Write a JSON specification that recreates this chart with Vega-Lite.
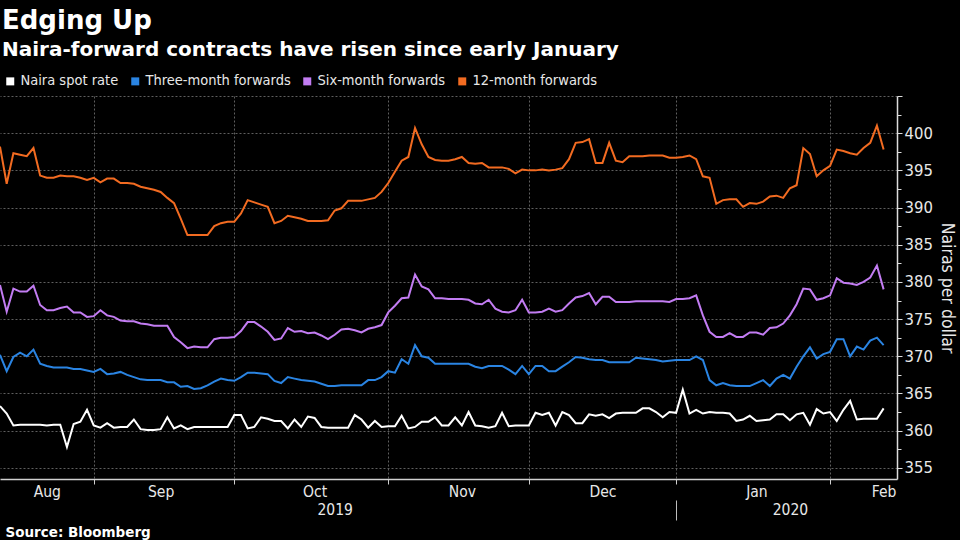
{
  "$schema": "https://vega.github.io/schema/vega-lite/v6.json",
  "width": 897,
  "height": 383,
  "autosize": {"type": "none"},
  "padding": {"left": 0, "top": 96, "right": 63, "bottom": 61},
  "background": "#000000",
  "title": {
    "text": "Edging Up",
    "subtitle": "Naira-forward contracts have risen since early January",
    "anchor": "start",
    "frame": "group",
    "font": "DejaVu Sans",
    "fontSize": 26,
    "fontWeight": "bold",
    "color": "#ffffff",
    "subtitleFont": "DejaVu Sans",
    "subtitleFontSize": 20,
    "subtitleFontWeight": "bold",
    "subtitleColor": "#ffffff",
    "subtitlePadding": 6,
    "offset": 14,
    "dx": 2
  },
  "data": {"values": [
    {"d":"2019-08-13","spot":363.3,"m3":370.2,"m6":379.6,"m12":398.2},
    {"d":"2019-08-14","spot":362.3,"m3":368.0,"m6":376.0,"m12":393.2},
    {"d":"2019-08-15","spot":360.7,"m3":369.9,"m6":379.1,"m12":397.3},
    {"d":"2019-08-16","spot":360.8,"m3":370.5,"m6":378.7,"m12":397.1},
    {"d":"2019-08-19","spot":360.8,"m3":370.0,"m6":378.7,"m12":396.9},
    {"d":"2019-08-20","spot":360.8,"m3":370.9,"m6":379.5,"m12":398.0},
    {"d":"2019-08-21","spot":360.8,"m3":369.0,"m6":376.9,"m12":394.3},
    {"d":"2019-08-22","spot":360.7,"m3":368.7,"m6":376.2,"m12":394.0},
    {"d":"2019-08-23","spot":360.8,"m3":368.5,"m6":376.2,"m12":394.0},
    {"d":"2019-08-26","spot":360.8,"m3":368.5,"m6":376.5,"m12":394.3},
    {"d":"2019-08-27","spot":357.8,"m3":368.5,"m6":376.7,"m12":394.2},
    {"d":"2019-08-28","spot":360.9,"m3":368.3,"m6":375.9,"m12":394.2},
    {"d":"2019-08-29","spot":361.2,"m3":368.3,"m6":375.9,"m12":394.0},
    {"d":"2019-08-30","spot":362.8,"m3":368.1,"m6":375.3,"m12":393.7},
    {"d":"2019-09-02","spot":360.7,"m3":367.9,"m6":375.4,"m12":394.0},
    {"d":"2019-09-03","spot":360.4,"m3":368.3,"m6":376.2,"m12":393.4},
    {"d":"2019-09-04","spot":361.0,"m3":367.6,"m6":375.5,"m12":393.9},
    {"d":"2019-09-05","spot":360.4,"m3":367.7,"m6":375.3,"m12":393.9},
    {"d":"2019-09-06","spot":360.5,"m3":367.9,"m6":374.8,"m12":393.3},
    {"d":"2019-09-09","spot":360.5,"m3":367.5,"m6":374.7,"m12":393.3},
    {"d":"2019-09-10","spot":361.5,"m3":367.2,"m6":374.7,"m12":393.2},
    {"d":"2019-09-11","spot":360.2,"m3":366.9,"m6":374.4,"m12":392.8},
    {"d":"2019-09-12","spot":360.1,"m3":366.8,"m6":374.3,"m12":392.6},
    {"d":"2019-09-13","spot":360.1,"m3":366.8,"m6":374.1,"m12":392.4},
    {"d":"2019-09-16","spot":360.2,"m3":366.8,"m6":374.1,"m12":392.1},
    {"d":"2019-09-17","spot":361.8,"m3":366.5,"m6":374.1,"m12":391.3},
    {"d":"2019-09-18","spot":360.3,"m3":366.5,"m6":372.6,"m12":390.6},
    {"d":"2019-09-19","spot":360.7,"m3":365.9,"m6":371.9,"m12":388.5},
    {"d":"2019-09-20","spot":360.2,"m3":366.0,"m6":371.1,"m12":386.3},
    {"d":"2019-09-23","spot":360.5,"m3":365.6,"m6":371.3,"m12":386.3},
    {"d":"2019-09-24","spot":360.5,"m3":365.7,"m6":371.2,"m12":386.3},
    {"d":"2019-09-25","spot":360.5,"m3":366.1,"m6":371.2,"m12":386.3},
    {"d":"2019-09-26","spot":360.5,"m3":366.6,"m6":372.3,"m12":387.5},
    {"d":"2019-09-27","spot":360.5,"m3":367.0,"m6":372.5,"m12":387.9},
    {"d":"2019-09-30","spot":360.5,"m3":366.8,"m6":372.5,"m12":388.1},
    {"d":"2019-10-01","spot":362.1,"m3":366.7,"m6":372.6,"m12":388.1},
    {"d":"2019-10-02","spot":362.1,"m3":367.2,"m6":373.4,"m12":389.2},
    {"d":"2019-10-03","spot":360.3,"m3":367.8,"m6":374.6,"m12":391.0},
    {"d":"2019-10-04","spot":360.5,"m3":367.8,"m6":374.6,"m12":390.7},
    {"d":"2019-10-07","spot":361.8,"m3":367.7,"m6":374.0,"m12":390.4},
    {"d":"2019-10-08","spot":361.6,"m3":367.6,"m6":373.3,"m12":390.1},
    {"d":"2019-10-09","spot":361.3,"m3":366.7,"m6":372.2,"m12":387.9},
    {"d":"2019-10-10","spot":361.3,"m3":366.4,"m6":372.4,"m12":388.2},
    {"d":"2019-10-11","spot":360.3,"m3":367.2,"m6":373.8,"m12":388.9},
    {"d":"2019-10-14","spot":361.5,"m3":367.0,"m6":373.3,"m12":388.7},
    {"d":"2019-10-15","spot":360.5,"m3":366.8,"m6":373.4,"m12":388.5},
    {"d":"2019-10-16","spot":361.9,"m3":366.7,"m6":373.1,"m12":388.2},
    {"d":"2019-10-17","spot":361.7,"m3":366.6,"m6":373.2,"m12":388.2},
    {"d":"2019-10-18","spot":360.5,"m3":366.3,"m6":372.8,"m12":388.2},
    {"d":"2019-10-21","spot":360.4,"m3":366.0,"m6":372.3,"m12":388.3},
    {"d":"2019-10-22","spot":360.4,"m3":366.0,"m6":372.9,"m12":389.6},
    {"d":"2019-10-23","spot":360.4,"m3":366.1,"m6":373.6,"m12":389.9},
    {"d":"2019-10-24","spot":360.4,"m3":366.1,"m6":373.7,"m12":390.9},
    {"d":"2019-10-25","spot":362.1,"m3":366.1,"m6":373.5,"m12":390.9},
    {"d":"2019-10-28","spot":361.5,"m3":366.1,"m6":373.2,"m12":390.9},
    {"d":"2019-10-29","spot":360.4,"m3":366.8,"m6":373.7,"m12":391.1},
    {"d":"2019-10-30","spot":361.3,"m3":366.8,"m6":373.9,"m12":391.3},
    {"d":"2019-10-31","spot":360.5,"m3":367.2,"m6":374.2,"m12":392.1},
    {"d":"2019-11-01","spot":360.6,"m3":368.0,"m6":375.9,"m12":393.3},
    {"d":"2019-11-04","spot":360.6,"m3":367.8,"m6":376.8,"m12":394.8},
    {"d":"2019-11-05","spot":362.0,"m3":369.6,"m6":377.8,"m12":396.3},
    {"d":"2019-11-06","spot":360.3,"m3":369.0,"m6":377.9,"m12":396.8},
    {"d":"2019-11-07","spot":360.5,"m3":371.5,"m6":381.0,"m12":400.7},
    {"d":"2019-11-08","spot":361.2,"m3":370.0,"m6":379.4,"m12":398.5},
    {"d":"2019-11-11","spot":361.2,"m3":369.8,"m6":379.0,"m12":396.8},
    {"d":"2019-11-12","spot":361.8,"m3":369.0,"m6":377.8,"m12":396.4},
    {"d":"2019-11-13","spot":360.7,"m3":369.0,"m6":377.8,"m12":396.3},
    {"d":"2019-11-14","spot":360.7,"m3":369.0,"m6":377.7,"m12":396.3},
    {"d":"2019-11-15","spot":361.8,"m3":369.0,"m6":377.7,"m12":396.5},
    {"d":"2019-11-18","spot":360.7,"m3":369.0,"m6":377.7,"m12":396.8},
    {"d":"2019-11-19","spot":362.5,"m3":369.0,"m6":377.6,"m12":396.0},
    {"d":"2019-11-20","spot":360.7,"m3":368.6,"m6":377.1,"m12":395.9},
    {"d":"2019-11-21","spot":360.6,"m3":368.4,"m6":377.0,"m12":396.0},
    {"d":"2019-11-22","spot":360.4,"m3":368.7,"m6":377.6,"m12":395.4},
    {"d":"2019-11-25","spot":360.6,"m3":368.7,"m6":376.4,"m12":395.4},
    {"d":"2019-11-26","spot":362.4,"m3":368.7,"m6":376.0,"m12":395.4},
    {"d":"2019-11-27","spot":360.6,"m3":368.2,"m6":375.9,"m12":395.2},
    {"d":"2019-11-28","spot":360.7,"m3":367.6,"m6":376.2,"m12":394.6},
    {"d":"2019-11-29","spot":360.7,"m3":368.7,"m6":377.6,"m12":395.1},
    {"d":"2019-12-02","spot":360.7,"m3":367.6,"m6":375.9,"m12":395.0},
    {"d":"2019-12-03","spot":362.4,"m3":368.7,"m6":375.9,"m12":395.0},
    {"d":"2019-12-04","spot":362.1,"m3":368.7,"m6":376.0,"m12":395.1},
    {"d":"2019-12-05","spot":362.4,"m3":368.0,"m6":376.4,"m12":395.0},
    {"d":"2019-12-06","spot":360.7,"m3":368.0,"m6":376.0,"m12":395.1},
    {"d":"2019-12-09","spot":362.5,"m3":368.6,"m6":376.2,"m12":395.3},
    {"d":"2019-12-10","spot":362.1,"m3":369.2,"m6":377.1,"m12":396.5},
    {"d":"2019-12-11","spot":361.0,"m3":369.9,"m6":377.9,"m12":398.7},
    {"d":"2019-12-12","spot":361.0,"m3":369.8,"m6":378.1,"m12":398.8},
    {"d":"2019-12-13","spot":362.2,"m3":369.6,"m6":378.5,"m12":399.2},
    {"d":"2019-12-16","spot":362.0,"m3":369.5,"m6":377.0,"m12":396.0},
    {"d":"2019-12-17","spot":362.2,"m3":369.5,"m6":378.0,"m12":396.0},
    {"d":"2019-12-18","spot":361.7,"m3":369.2,"m6":378.0,"m12":398.7},
    {"d":"2019-12-19","spot":362.3,"m3":369.2,"m6":377.3,"m12":396.3},
    {"d":"2019-12-20","spot":362.4,"m3":369.2,"m6":377.3,"m12":396.1},
    {"d":"2019-12-23","spot":362.4,"m3":369.2,"m6":377.3,"m12":396.9},
    {"d":"2019-12-24","spot":362.4,"m3":369.8,"m6":377.4,"m12":396.9},
    {"d":"2019-12-25","spot":363.0,"m3":369.7,"m6":377.4,"m12":396.9},
    {"d":"2019-12-26","spot":363.0,"m3":369.6,"m6":377.4,"m12":397.0},
    {"d":"2019-12-27","spot":362.5,"m3":369.5,"m6":377.4,"m12":397.0},
    {"d":"2019-12-30","spot":361.8,"m3":369.3,"m6":377.4,"m12":397.0},
    {"d":"2019-12-31","spot":362.5,"m3":369.4,"m6":377.3,"m12":396.7},
    {"d":"2020-01-01","spot":362.4,"m3":369.5,"m6":377.7,"m12":396.7},
    {"d":"2020-01-02","spot":365.5,"m3":369.5,"m6":377.7,"m12":396.8},
    {"d":"2020-01-03","spot":362.3,"m3":369.5,"m6":377.8,"m12":397.0},
    {"d":"2020-01-06","spot":362.8,"m3":370.0,"m6":378.2,"m12":396.5},
    {"d":"2020-01-07","spot":362.3,"m3":369.5,"m6":375.5,"m12":394.2},
    {"d":"2020-01-08","spot":362.5,"m3":366.8,"m6":373.3,"m12":394.0},
    {"d":"2020-01-09","spot":362.4,"m3":366.1,"m6":372.6,"m12":390.5},
    {"d":"2020-01-10","spot":362.4,"m3":366.4,"m6":372.6,"m12":391.0},
    {"d":"2020-01-13","spot":362.3,"m3":366.1,"m6":373.1,"m12":391.1},
    {"d":"2020-01-14","spot":361.3,"m3":366.0,"m6":372.6,"m12":391.1},
    {"d":"2020-01-15","spot":361.5,"m3":366.0,"m6":372.6,"m12":390.1},
    {"d":"2020-01-16","spot":362.0,"m3":366.0,"m6":373.2,"m12":390.6},
    {"d":"2020-01-17","spot":361.3,"m3":366.4,"m6":373.2,"m12":390.5},
    {"d":"2020-01-20","spot":361.4,"m3":366.8,"m6":372.9,"m12":390.8},
    {"d":"2020-01-21","spot":361.5,"m3":366.0,"m6":373.8,"m12":391.5},
    {"d":"2020-01-22","spot":362.2,"m3":367.0,"m6":373.9,"m12":391.6},
    {"d":"2020-01-23","spot":362.2,"m3":367.5,"m6":374.4,"m12":391.3},
    {"d":"2020-01-24","spot":361.4,"m3":367.0,"m6":375.5,"m12":392.6},
    {"d":"2020-01-27","spot":362.2,"m3":368.6,"m6":377.0,"m12":393.0},
    {"d":"2020-01-28","spot":362.4,"m3":370.0,"m6":379.1,"m12":398.0},
    {"d":"2020-01-29","spot":360.8,"m3":371.2,"m6":379.0,"m12":397.2},
    {"d":"2020-01-30","spot":362.9,"m3":369.7,"m6":377.6,"m12":394.2},
    {"d":"2020-01-31","spot":362.3,"m3":370.3,"m6":377.8,"m12":395.0},
    {"d":"2020-02-03","spot":362.5,"m3":370.6,"m6":378.2,"m12":395.6},
    {"d":"2020-02-04","spot":361.3,"m3":372.3,"m6":380.5,"m12":397.8},
    {"d":"2020-02-05","spot":362.8,"m3":372.3,"m6":379.9,"m12":397.6},
    {"d":"2020-02-06","spot":364.0,"m3":370.0,"m6":379.8,"m12":397.3},
    {"d":"2020-02-07","spot":361.5,"m3":371.3,"m6":379.6,"m12":397.1},
    {"d":"2020-02-10","spot":361.6,"m3":370.9,"m6":380.0,"m12":398.0},
    {"d":"2020-02-11","spot":361.6,"m3":372.1,"m6":380.6,"m12":398.7},
    {"d":"2020-02-12","spot":361.6,"m3":372.5,"m6":382.2,"m12":401.0},
    {"d":"2020-02-13","spot":363.0,"m3":371.5,"m6":379.0,"m12":397.8}
  ]},
  "transform": [{"fold": ["spot", "m3", "m6", "m12"], "as": ["series", "value"]}],
  "layer": [
    {
      "mark": {"type": "line", "strokeWidth": 2},
      "encoding": {
        "x": {
          "field": "d", "type": "ordinal",
          "scale": {"type": "point", "align": 0, "padding": 1.58},
          "axis": {
            "orient": "bottom",
            "values": ["2019-09-02", "2019-10-01", "2019-11-01", "2019-12-02", "2020-01-01", "2020-02-03"],
            "labels": false, "title": null,
            "grid": true, "gridColor": "#5e5e5e", "gridDash": [2, 2], "gridWidth": 1,
            "ticks": true, "tickSize": 5, "tickColor": "#cfcfcf", "tickWidth": 1,
            "domain": true, "domainColor": "#cfcfcf", "domainWidth": 1.5
          }
        },
        "y": {
          "field": "value", "type": "quantitative",
          "scale": {"domain": [353.5, 405], "nice": false, "zero": false},
          "axis": {
            "orient": "right",
            "values": [355, 360, 365, 370, 375, 380, 385, 390, 395, 400, 405],
            "labelExpr": "datum.value > 402 ? '' : datum.label",
            "grid": true, "gridColor": "#5e5e5e", "gridDash": [2, 2], "gridWidth": 1,
            "tickSize": 5, "tickColor": "#dcdcdc", "domainColor": "#dcdcdc", "domainWidth": 1.5,
            "labelFont": "DejaVu Sans Condensed", "labelFontSize": 16.5, "labelColor": "#e8e8e8", "labelPadding": 2,
            "title": "Nairas per dollar", "titleFont": "DejaVu Sans Condensed", "titleFontSize": 17.5,
            "titleFontWeight": "normal", "titleColor": "#e8e8e8", "titlePadding": 5
          }
        },
        "color": {
          "field": "series", "type": "nominal",
          "scale": {"domain": ["spot", "m3", "m6", "m12"], "range": ["#ffffff", "#2a84e2", "#c27cf2", "#f26b21"]},
          "legend": {
            "title": null, "orient": "none", "legendX": 3, "legendY": -22, "direction": "horizontal",
            "symbolType": "square", "symbolSize": 64, "symbolStrokeWidth": 0,
            "labelFont": "DejaVu Sans Condensed", "labelFontSize": 14.5, "labelColor": "#e8e8e8",
            "labelOffset": 3, "columnPadding": 9, "padding": 0,
            "labelExpr": "{'spot': 'Naira spot rate', 'm3': 'Three-month forwards', 'm6': 'Six-month forwards', 'm12': '12-month forwards'}[datum.value]",
            "encode": {"symbols": {"update": {"fill": {"scale": "color", "field": "value"}, "stroke": {"scale": "color", "field": "value"}}}}
          }
        }
      }
    },
    {
      "mark": {"type": "line", "strokeOpacity": 0},
      "encoding": {
        "x": {
          "field": "d", "type": "ordinal",
          "scale": {"type": "point", "align": 0, "padding": 1.58},
          "axis": {
            "orient": "bottom",
            "values": ["2019-08-22", "2019-09-16", "2019-10-17", "2019-11-18", "2019-12-17", "2020-01-17", "2020-02-13"],
            "labelExpr": "utcFormat(toDate(datum.value), '%b')",
            "ticks": false, "domain": false, "grid": false, "title": null,
            "labelAngle": 0, "labelPadding": 5, "labelOverlap": false, "labelBound": false, "labelFlush": false,
            "labelFont": "DejaVu Sans Condensed", "labelFontSize": 15.5, "labelColor": "#e8e8e8"
          }
        },
        "y": {
          "field": "value", "type": "quantitative",
          "scale": {"domain": [353.5, 405], "nice": false, "zero": false},
          "axis": {
            "orient": "right",
            "values": [357.5, 362.5, 367.5, 372.5, 377.5, 382.5, 387.5, 392.5, 397.5, 402.5],
            "labels": false, "grid": false, "domain": false, "title": null,
            "ticks": true, "tickSize": 4, "tickColor": "#dcdcdc"
          }
        },
        "detail": {"field": "series"}
      }
    },
    {
      "mark": {"type": "line", "strokeOpacity": 0},
      "encoding": {
        "x": {
          "field": "d", "type": "ordinal",
          "scale": {"type": "point", "align": 0, "padding": 1.58},
          "axis": {
            "orient": "bottom",
            "values": ["2019-10-22", "2020-01-24"],
            "labelExpr": "substring(datum.value, 0, 4)",
            "ticks": false, "domain": false, "grid": false, "title": null,
            "labelAngle": 0, "labelPadding": 23, "labelOverlap": false, "labelBound": false, "labelFlush": false,
            "labelFont": "DejaVu Sans Condensed", "labelFontSize": 15.5, "labelColor": "#e8e8e8"
          }
        },
        "y": {
          "field": "value", "type": "quantitative",
          "scale": {"domain": [353.5, 405], "nice": false, "zero": false},
          "axis": null
        },
        "detail": {"field": "series"}
      }
    },
    {
      "mark": {"type": "line", "strokeOpacity": 0},
      "encoding": {
        "x": {
          "field": "d", "type": "ordinal",
          "scale": {"type": "point", "align": 0, "padding": 1.58},
          "axis": {
            "orient": "bottom",
            "values": ["2020-01-01"],
            "labels": false, "domain": false, "grid": false,
            "ticks": true, "tickSize": 20, "tickColor": "#bdbdbd", "tickWidth": 1, "offset": 21,
            "title": "Source: Bloomberg", "titleFont": "DejaVu Sans", "titleFontWeight": "bold",
            "titleFontSize": 13.5, "titleColor": "#ffffff", "titleAnchor": "start", "titleAlign": "left",
            "titleX": 5, "titlePadding": 5
          }
        },
        "y": {
          "field": "value", "type": "quantitative",
          "scale": {"domain": [353.5, 405], "nice": false, "zero": false},
          "axis": null
        },
        "detail": {"field": "series"}
      }
    }
  ],
  "resolve": {"axis": {"x": "independent", "y": "independent"}},
  "config": {
    "view": {"stroke": null},
    "axis": {"labelFont": "DejaVu Sans Condensed", "labelColor": "#e8e8e8"}
  }
}
